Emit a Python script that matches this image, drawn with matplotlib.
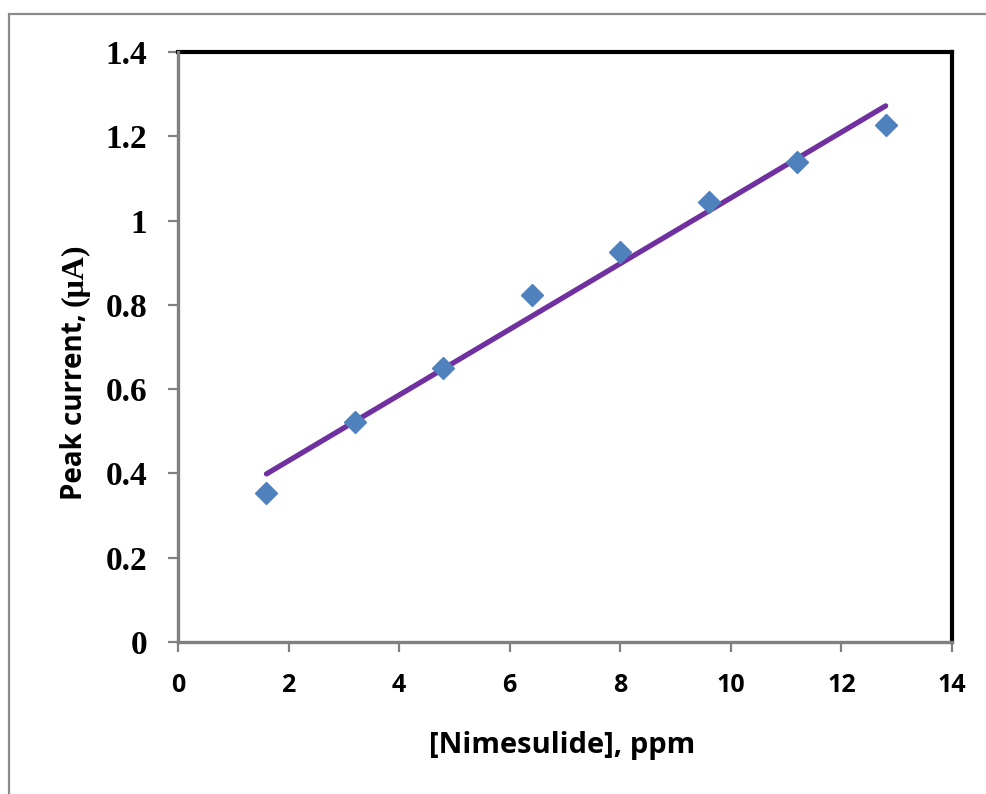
import numpy as np
import matplotlib.pyplot as plt
from matplotlib.patches import Rectangle

# nimesulide concentration (ppm) and peak current (uA)
conc = [1.6, 3.2, 4.8, 6.4, 8.0, 9.6, 11.2, 12.8]
current = [0.354, 0.522, 0.650, 0.823, 0.925, 1.044, 1.139, 1.227]
x_ticks = [0, 2, 4, 6, 8, 10, 12, 14]
y_ticks = [0, 0.2, 0.4, 0.6, 0.8, 1.0, 1.2, 1.4]
y_tick_labels = ["0", "0.2", "0.4", "0.6", "0.8", "1", "1.2", "1.4"]

W, H = 986, 794
fig = plt.figure(figsize=(W / 100, H / 100), dpi=100)
ax = fig.add_axes([178 / W, 1 - 642 / H, (952 - 178) / W, (642 - 52) / H])

# outer chart frame (runs off the right and bottom edges)
fig.patches.append(Rectangle((9 / W, -0.2), 1.2, 1 - 14 / H + 0.2,
                             transform=fig.transFigure, fill=False,
                             edgecolor="#8c8c8c", linewidth=1.6))

# linear trendline
k, b = np.polyfit(conc, current, 1)
xs = np.array([conc[0], conc[-1]])
ax.plot(xs, k * xs + b, color="#7030A0", linewidth=3.8,
        solid_capstyle="round", zorder=2)
ax.plot(conc, current, linestyle="none", marker="D", markersize=11,
        color="#4F81BD", zorder=3)

ax.set_xlim(0, 14)
ax.set_ylim(0, 1.4)
ax.set_xticks(x_ticks)
ax.set_yticks(y_ticks)
ax.set_yticklabels(y_tick_labels)

for s in ["left", "bottom"]:
    ax.spines[s].set_color("#808080")
    ax.spines[s].set_linewidth(2.4)
    ax.spines[s].set_zorder(4)
for s in ["top", "right"]:
    ax.spines[s].set_color("black")
    ax.spines[s].set_linewidth(3.0)

ax.tick_params(direction="out", length=7, width=1.6, color="#808080")
ax.tick_params(axis="y", pad=15)
ax.tick_params(axis="x", pad=15)
for t in ax.get_yticklabels():
    t.set_fontfamily("Liberation Serif")
    t.set_fontweight("bold")
    t.set_fontsize(24)
for t in ax.get_xticklabels():
    t.set_fontfamily("Open Sans")
    t.set_fontweight("bold")
    t.set_fontsize(18)

fig.text(562 / W, 1 - 745 / H, "[Nimesulide], ppm", ha="center", va="center",
         fontfamily="Open Sans", fontweight="bold", fontsize=21)

# y label: sans part then serif unit
lab1 = fig.text(75 / W, 1 - 500 / H, "Peak current, ", rotation=90,
                ha="center", va="bottom", fontfamily="Open Sans",
                fontweight="bold", fontsize=20)
fig.canvas.draw()
bb = lab1.get_window_extent(fig.canvas.get_renderer())
fig.text(75 / W, bb.y1 / H, "(\u03bcA)", rotation=90, ha="center", va="bottom",
         fontfamily="Liberation Serif", fontweight="bold", fontsize=23)

fig.savefig("out.png", dpi=100)
